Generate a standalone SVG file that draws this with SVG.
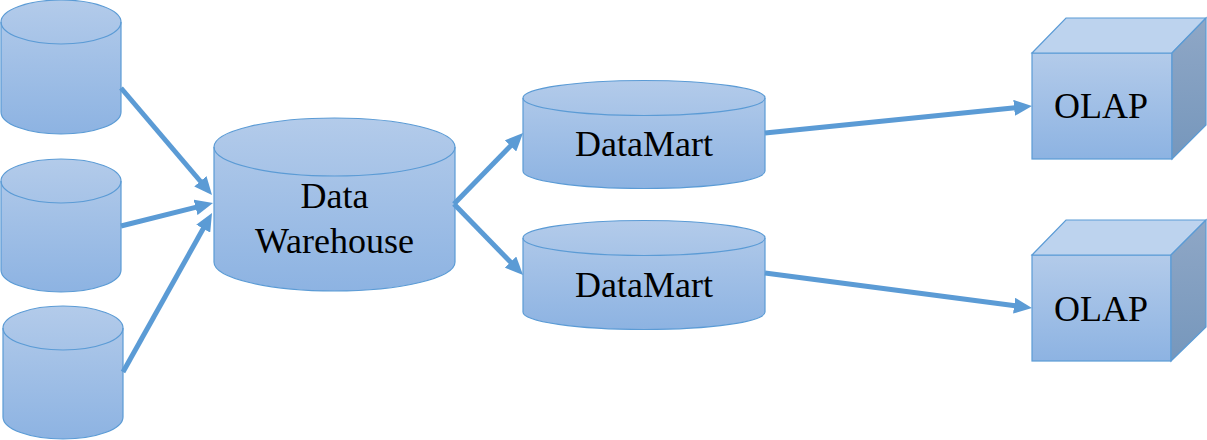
<svg xmlns="http://www.w3.org/2000/svg" width="1207" height="440" viewBox="0 0 1207 440">
<defs>
<linearGradient id="gBody" x1="0" y1="0" x2="0" y2="1">
<stop offset="0" stop-color="#b3cbea"/>
<stop offset="1" stop-color="#8db3e2"/>
</linearGradient>
<linearGradient id="gSide" x1="0" y1="0" x2="0" y2="1">
<stop offset="0" stop-color="#8fa7c6"/>
<stop offset="1" stop-color="#7697bc"/>
</linearGradient>
<marker id="arr" markerUnits="userSpaceOnUse" markerWidth="18" markerHeight="16" refX="1" refY="8" orient="auto" viewBox="0 0 18 16">
<path d="M0,0 L18,8 L0,16 z" fill="#5b9bd5"/>
</marker>
</defs>
<style>
.body{fill:url(#gBody);stroke:#5b9bd5;stroke-width:1.2}
.rim{fill:none;stroke:#5b9bd5;stroke-width:1.2}
.top{fill:#bdd3ee;stroke:#5b9bd5;stroke-width:1.2}
.side{fill:url(#gSide);stroke:#5b9bd5;stroke-width:1.2}
.lbl{font-family:'Times New Roman','Liberation Serif','DejaVu Serif',serif;font-size:36px;fill:#000;text-anchor:middle}
.con{stroke:#5b9bd5;stroke-width:5;fill:none;marker-end:url(#arr)}
</style>

<g id="source1">
<path class="body" d="M1,22 L1,112 A60,22 0 0 0 121,112 L121,22 A60,22 0 0 0 1,22 Z"/>
<path class="rim" d="M1,22 A60,22 0 0 0 121,22"/>
</g>
<g id="source2">
<path class="body" d="M1,181 L1,270 A60,22 0 0 0 121,270 L121,181 A60,22 0 0 0 1,181 Z"/>
<path class="rim" d="M1,181 A60,22 0 0 0 121,181"/>
</g>
<g id="source3">
<path class="body" d="M3,328 L3,417 A60,22 0 0 0 123,417 L123,328 A60,22 0 0 0 3,328 Z"/>
<path class="rim" d="M3,328 A60,22 0 0 0 123,328"/>
</g>

<g id="warehouse">
<path class="body" d="M214,147 L214,262 A120.5,29 0 0 0 455,262 L455,147 A120.5,29 0 0 0 214,147 Z"/>
<path class="rim" d="M214,147 A120.5,29 0 0 0 455,147"/>
<text class="lbl" x="334.5" y="208">Data</text>
<text class="lbl" x="334.5" y="253">Warehouse</text>
</g>

<g id="datamart1">
<path class="body" d="M523,98 L523,171 A121,17.5 0 0 0 765,171 L765,98 A121,17.5 0 0 0 523,98 Z"/>
<path class="rim" d="M523,98 A121,17.5 0 0 0 765,98"/>
<text class="lbl" x="644" y="156">DataMart</text>
</g>
<g id="datamart2">
<path class="body" d="M523,238 L523,312 A121,17.5 0 0 0 765,312 L765,238 A121,17.5 0 0 0 523,238 Z"/>
<path class="rim" d="M523,238 A121,17.5 0 0 0 765,238"/>
<text class="lbl" x="644" y="297">DataMart</text>
</g>

<g id="olap1">
<rect class="body" x="1032" y="53" width="140" height="106"/>
<path class="top" d="M1032,53 L1066,18 L1206,18 L1172,53 Z"/>
<path class="side" d="M1172,53 L1206,18 L1206,125 L1172,159 Z"/>
<text class="lbl" x="1101" y="118">OLAP</text>
</g>
<g id="olap2">
<rect class="body" x="1032" y="255" width="139" height="106"/>
<path class="top" d="M1032,255 L1066,220 L1206,220 L1171,255 Z"/>
<path class="side" d="M1171,255 L1206,220 L1206,327 L1171,361 Z"/>
<text class="lbl" x="1101" y="321">OLAP</text>
</g>

<g id="connectors">
<line class="con" x1="121" y1="88" x2="201" y2="182"/>
<line class="con" x1="121" y1="226" x2="196.5" y2="207.1"/>
<line class="con" x1="123" y1="372" x2="203.7" y2="227.8"/>
<line class="con" x1="454" y1="204" x2="511.2" y2="145.2"/>
<line class="con" x1="454" y1="204" x2="511.2" y2="262.8"/>
<line class="con" x1="765" y1="133" x2="1015.1" y2="107.7"/>
<line class="con" x1="765" y1="273" x2="1015.1" y2="305.8"/>
</g>
</svg>
